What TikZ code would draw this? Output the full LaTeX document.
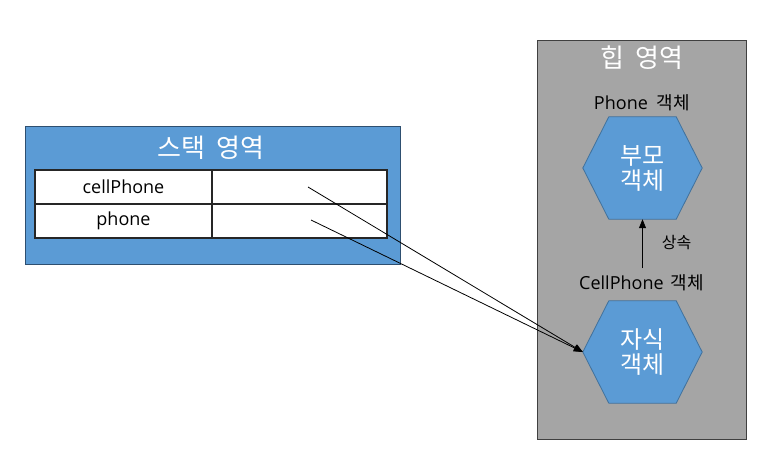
\documentclass[tikz,border=0pt]{standalone}
\usepackage{fontspec}
\setmainfont{Open Sans}
\newfontfamily\kr{Noto Sans CJK KR}
\usetikzlibrary{arrows.meta,calc}
\definecolor{blu}{HTML}{5B9BD5}
\definecolor{bluedge}{HTML}{2E4F70}
\definecolor{hexedge}{HTML}{41719C}
\definecolor{heapgray}{HTML}{A5A5A5}
\definecolor{heapedge}{HTML}{404040}
\definecolor{tbledge}{HTML}{262626}
\newcommand{\latsz}{\fontsize{18}{22}\selectfont}
\newcommand{\krlbl}[1]{{\kr\fontsize{18}{22}\selectfont #1}}
\tikzset{
  stackbox/.style={draw=bluedge, fill=blu, line width=1pt, minimum width=375pt, minimum height=138pt, inner sep=0pt},
  heapbox/.style={draw=heapedge, fill=heapgray, line width=1pt, minimum width=209pt, minimum height=399pt, inner sep=0pt},
  cellbox/.style={draw=tbledge, fill=white, line width=1.2pt, minimum height=34pt, inner sep=0pt, font=\latsz},
  title/.style={text=white, font=\kr\fontsize{26}{30}\selectfont},
  lbl/.style={text=black, font=\latsz},
  small/.style={text=black, font=\kr\fontsize{16}{19}\selectfont},
  hexbox/.style={minimum width=119pt, minimum height=102pt, inner sep=0pt, text=white, align=center, font=\kr\fontsize{24}{25}\selectfont},
  hexline/.style={draw=hexedge, fill=blu, line width=0.8pt},
  arr/.style={-{Triangle[length=9pt,width=7pt]}, line width=0.8pt, black},
}
\newcommand{\hexpath}[1]{%
  \path[hexline] (#1.west) -- ($(#1.north west)+(26pt,0)$) -- ($(#1.north east)+(-26pt,0)$) -- (#1.east) -- ($(#1.south east)+(-26pt,0)$) -- ($(#1.south west)+(26pt,0)$) -- cycle;}
\begin{document}
\begin{tikzpicture}[x=1pt,y=-1pt]
\useasboundingbox (0,0) rectangle (774,466);
% stack area
\node[stackbox, anchor=north west] (stack) at (25,126) {};
\node[title] (stacktitle) at (211,148) {스택\hspace{11pt}영역};
\node[cellbox, minimum width=177pt] (c11) at (123.5,187) {cellPhone};
\node[cellbox, minimum width=175pt] (c12) at (299.5,187) {};
\node[cellbox, minimum width=177pt] (c21) at (123.5,221) {phone};
\node[cellbox, minimum width=175pt] (c22) at (299.5,221) {};
\node[draw=tbledge, line width=2pt, minimum width=352pt, minimum height=68pt, inner sep=0pt] (tbl) at (211,204) {};
% heap area
\node[heapbox, anchor=north west] (heap) at (537,40) {};
\node[title] (heaptitle) at (642,58) {힙\hspace{11pt}영역};
\node[lbl] (plabel) at (642,103) {Phone\hspace{9pt}\krlbl{객체}};
\node[hexbox] (parentshape) at (642.5,168) {};
\hexpath{parentshape}
\node[hexbox] (parent) at (642.5,168) {부모\\객체};
\node[lbl] (clabel) at (641.5,283) {CellPhone\hspace{7pt}\krlbl{객체}};
\node[hexbox] (childshape) at (642.5,352) {};
\hexpath{childshape}
\node[hexbox] (child) at (642.5,352) {자식\\객체};
\coordinate (inhstart) at (642.5,268);
\draw[arr] (inhstart) -- (parentshape.south);
\node[small] (inh) at (676.5,243) {상속};
% references
\coordinate (r1) at (308,187);
\coordinate (r2) at (311,220);
\draw[arr] (r1) -- (childshape.west);
\draw[arr] (r2) -- (childshape.west);
\end{tikzpicture}
\end{document}
